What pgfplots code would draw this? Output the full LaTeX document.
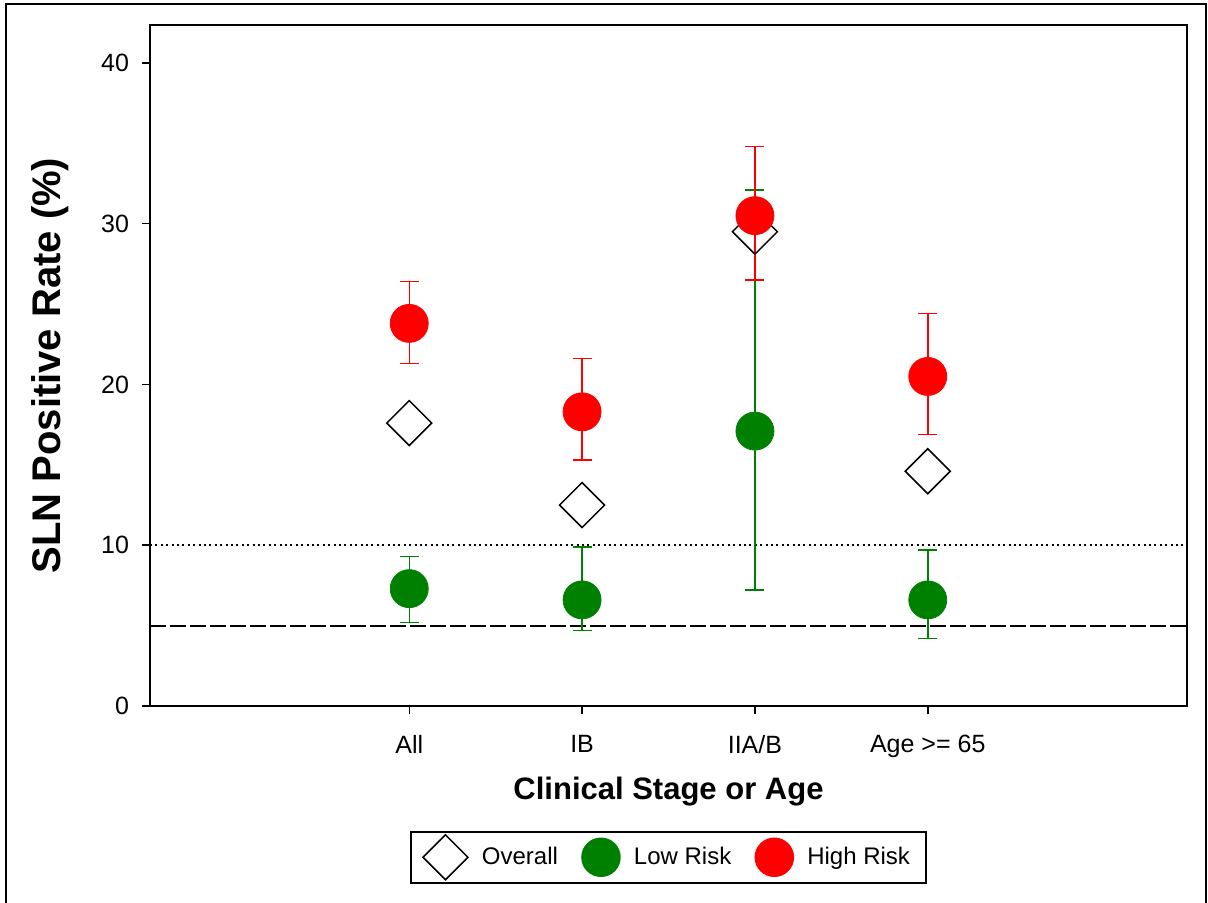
\documentclass[border=0pt]{standalone}
\usepackage{pgfplots}
\pgfplotsset{compat=1.18}
\usepackage{fontspec}
\setmainfont{Liberation Sans}
\definecolor{lowg}{RGB}{0,128,0}
\definecolor{highr}{RGB}{255,0,0}
\begin{document}
\begin{tikzpicture}
\useasboundingbox (-75pt,-98.5pt) rectangle (529pt,353pt);
\draw[line width=1pt] (-72pt,-100pt) -- (-72pt,351pt) -- (528.2pt,351pt) -- (528.2pt,-100pt);
\begin{axis}[
  at={(0pt,0pt)}, anchor=south west,
  scale only axis, width=518.5pt, height=340.5pt,
  xmin=-1.5, xmax=4.5, ymin=0, ymax=42.36,
  axis line style={line width=0.75pt},
  tick style={line width=0.75pt, black},
  tick align=outside, major tick length=4pt,
  xtick pos=bottom, ytick pos=left,
  xtick={0,1,2,3}, xticklabels={All,IB,IIA/B,Age >= 65},
  ytick={0,10,20,30,40},
  /pgf/number format/assume math mode=true,
  ticklabel style={font=\fontsize{12.5}{14}\selectfont},
  xticklabel style={yshift=-7pt},
  yticklabel style={xshift=-3pt},
  xlabel={Clinical Stage or Age},
  ylabel={SLN Positive Rate (\%)},
  every axis x label/.style={at={(axis description cs:0.5,-0.1263)},anchor=center,
    font=\bfseries\fontsize{15.5}{18}\selectfont},
  every axis y label/.style={at={(axis description cs:-0.0964,0.5)},rotate=90,anchor=center,
    font=\bfseries\fontsize{20}{24}\selectfont},
  legend columns=3,
  legend style={at={(0.5,-0.1836)}, anchor=north, draw=black, line width=0.75pt,
    font=\fontsize{12}{14}\selectfont, inner xsep=6pt, inner ysep=1.5pt,
    /tikz/every odd column/.append style={column sep=5pt},
    /tikz/every even column/.append style={column sep=10pt}},
  legend cell align=left,
  legend image code/.code={\draw[#1, mark repeat=1] plot coordinates {(0pt,0pt)};},
  clip=false,
]
\addplot[black, dash pattern=on 1pt off 1.7pt, line width=1pt, forget plot] coordinates {(-1.5,10) (4.5,10)};
\addplot[black, dash pattern=on 8pt off 2pt, line width=1pt, forget plot] coordinates {(-1.5,5) (4.5,5)};

\addplot[only marks, mark=square, mark size=7.95pt, mark options={rotate=45, draw=black, line width=0.75pt, fill=none}]
  coordinates {(0,17.6) (1,12.5) (2,29.5) (3,14.6)};
\addlegendentry{Overall}

\addplot[only marks, mark=*, mark size=9.5pt, lowg, mark options={fill=lowg, draw=lowg},
  error bars/.cd, y dir=both, y explicit,
  error mark options={rotate=90, mark size=4.75pt, line width=0.75pt, lowg},
  error bar style={line width=0.75pt, lowg}]
  coordinates {
   (0,7.3) += (0,2.0) -= (0,2.1)
   (1,6.6) += (0,3.3) -= (0,1.9)
   (2,17.1) += (0,15.0) -= (0,9.9)
   (3,6.6) += (0,3.1) -= (0,2.4)
  };
\addlegendentry{Low Risk}

\addplot[only marks, mark=*, mark size=9.5pt, highr, mark options={fill=highr, draw=highr},
  error bars/.cd, y dir=both, y explicit,
  error mark options={rotate=90, mark size=4.75pt, line width=0.75pt, highr},
  error bar style={line width=0.75pt, highr}]
  coordinates {
   (0,23.8) += (0,2.6) -= (0,2.5)
   (1,18.3) += (0,3.3) -= (0,3.0)
   (2,30.5) += (0,4.3) -= (0,4.0)
   (3,20.5) += (0,3.9) -= (0,3.6)
  };
\addlegendentry{High Risk}
\end{axis}
\end{tikzpicture}
\end{document}
